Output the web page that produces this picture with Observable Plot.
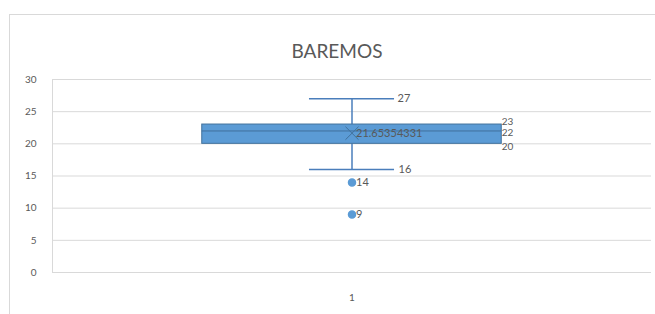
<!DOCTYPE html>
<html>
<head>
<meta charset="utf-8">
<script src="https://cdn.jsdelivr.net/npm/d3@7"></script>
<script src="https://cdn.jsdelivr.net/npm/@observablehq/plot@0.6"></script>
<style>
  html, body { margin: 0; padding: 0; background: #fff; overflow: hidden; width: 655px; height: 314px; }
  #wrap { position: relative; width: 655px; height: 314px; }
  #border { position: absolute; left: 9px; top: 14px; width: 700px; height: 400px; border: 1px solid #d9d9d9; box-sizing: border-box; }
  #chart { position: absolute; left: 0; top: 0; }
</style>
</head>
<body>
<div id="wrap"><div id="border"></div><div id="chart"></div></div>
<script>
const title = "BAREMOS";
const categories = [1];
const minValues = [16];
const q1Values = [20];
const medianValues = [22];
const q3Values = [23];
const maxValues = [27];
const meanValues = [21.65354331];
const meanLabels = ["21.65354331"];
const outlierValues = [14, 9];
const yTicks = [0, 5, 10, 15, 20, 25, 30];
const xTicks = [1];

const stats = categories.map((c, i) => ({
  cat: c, min: minValues[i], q1: q1Values[i], median: medianValues[i],
  q3: q3Values[i], max: maxValues[i], mean: meanValues[i], meanLabel: meanLabels[i]
}));
const outliers = outlierValues.map(v => ({cat: categories[0], v}));

const boxHalf = 0.5, capHalf = 0.142;
const gray = "#595959";
const blue = "#5b9bd5";
const dark = "#41719c";
const whisk = "#4a7ebb";
const font = "Lato, 'Open Sans', sans-serif";

const chart = Plot.plot({
  width: 655,
  height: 314,
  marginLeft: 52,
  marginRight: 4,
  marginTop: 79,
  marginBottom: 42,
  style: {fontFamily: font, fontSize: "10px", color: gray, background: "transparent"},
  x: {domain: [0, 2], ticks: xTicks, tickSize: 0, tickPadding: 21, tickFormat: d => String(d), label: null},
  y: {domain: [0, 30], ticks: yTicks, tickSize: 0, tickPadding: 16, label: null},
  marks: [
    Plot.ruleY(yTicks, {stroke: "#d9d9d9", strokeWidth: 1}),
    Plot.ruleX([0], {y1: 0, y2: 30, stroke: "#d9d9d9"}),
    // whiskers
    Plot.ruleX(stats, {x: "cat", y1: "q3", y2: "max", stroke: whisk, strokeWidth: 1.5}),
    Plot.ruleX(stats, {x: "cat", y1: "min", y2: "q1", stroke: whisk, strokeWidth: 1.5}),
    Plot.ruleY(stats, {y: "max", x1: d => d.cat - capHalf, x2: d => d.cat + capHalf, stroke: whisk, strokeWidth: 1.5}),
    Plot.ruleY(stats, {y: "min", x1: d => d.cat - capHalf, x2: d => d.cat + capHalf, stroke: whisk, strokeWidth: 1.5}),
    // box
    Plot.rect(stats, {x1: d => d.cat - boxHalf, x2: d => d.cat + boxHalf, y1: "q1", y2: "q3", fill: blue, stroke: dark, strokeWidth: 1}),
    Plot.ruleY(stats, {y: "median", x1: d => d.cat - boxHalf, x2: d => d.cat + boxHalf, stroke: dark, strokeWidth: 1}),
    // mean
    Plot.dot(stats, {x: "cat", y: "mean", symbol: "times", r: 6, stroke: dark, strokeWidth: 1}),
    Plot.text(stats, {x: "cat", y: "mean", text: "meanLabel", textAnchor: "start", dx: 4, fill: gray, fontSize: 11}),
    // labels
    Plot.text(stats, {x: d => d.cat + capHalf, y: "max", text: d => String(d.max), textAnchor: "start", dx: 3, fill: gray, fontSize: 11}),
    Plot.text(stats, {x: d => d.cat + capHalf, y: "min", text: d => String(d.min), textAnchor: "start", dx: 4, fill: gray, fontSize: 11}),
    Plot.text(stats, {x: d => d.cat + boxHalf, y: "q3", text: d => String(d.q3), textAnchor: "start", dx: 0, dy: -3, fill: gray, fontSize: 10}),
    Plot.text(stats, {x: d => d.cat + boxHalf, y: "median", text: d => String(d.median), textAnchor: "start", dx: 0, dy: 2, fill: gray, fontSize: 10}),
    Plot.text(stats, {x: d => d.cat + boxHalf, y: "q1", text: d => String(d.q1), textAnchor: "start", dx: 0, dy: 3, fill: gray, fontSize: 10}),
    // outliers
    Plot.dot(outliers, {x: "cat", y: "v", r: 3.5, fill: blue, stroke: blue}),
    Plot.text(outliers, {x: "cat", y: "v", text: d => String(d.v), textAnchor: "start", dx: 4, fill: gray, fontSize: 11}),
    // title
    Plot.text([title], {frameAnchor: "top", dy: -35, text: d => d, fontSize: 19, fill: gray, dx: -15})
  ]
});
document.getElementById("chart").appendChild(chart);
</script>
</body>
</html>
